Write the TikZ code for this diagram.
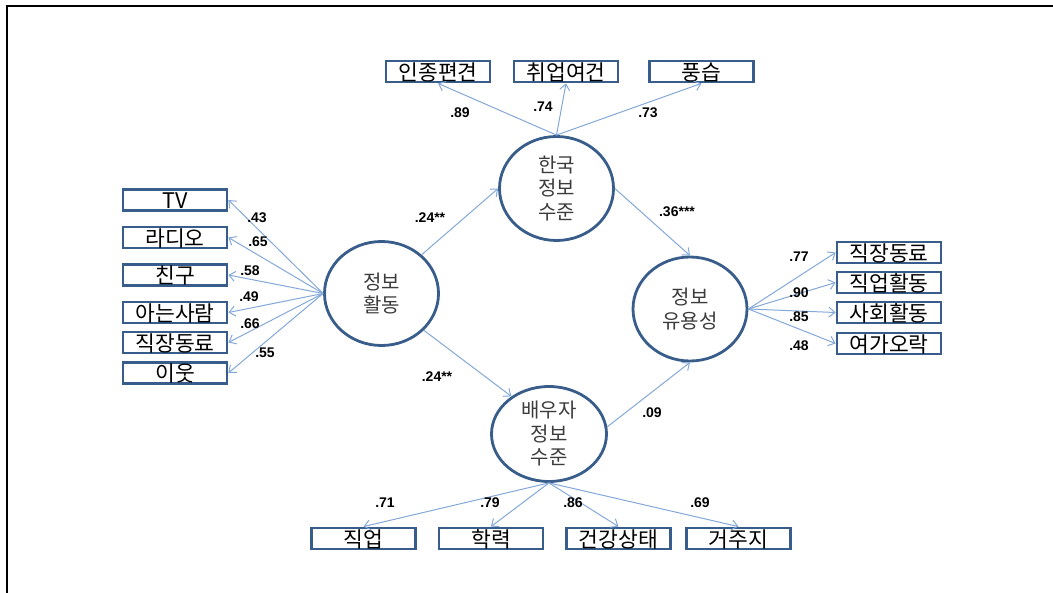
\documentclass[tikz,border=0pt]{standalone}
\usepackage{fontspec}
\newfontfamily\kr{Noto Sans CJK KR}
\newfontfamily\lab{Liberation Sans}
\usetikzlibrary{shapes.geometric,arrows.meta}
\definecolor{boxblue}{RGB}{56,93,138}
\definecolor{arrowblue}{RGB}{132,168,216}
\definecolor{circtext}{RGB}{60,60,60}
\begin{document}
\begin{tikzpicture}[x=1pt,y=-1pt,
  obs/.style={draw=boxblue, line width=2.8pt, fill=white, minimum width=104pt,
    minimum height=21pt, inner sep=0pt, text height=18pt, text depth=0pt,
    font=\kr\fontsize{21.5}{21.5}\selectfont},
  latent/.style={ellipse, draw=boxblue, line width=2.8pt, fill=white,
    minimum width=114pt, minimum height=104pt, inner sep=0pt, align=center,
    text=circtext, font=\kr\fontsize{20}{23.5}\selectfont},
  arr/.style={draw=arrowblue, line width=1pt,
    -{Straight Barb[length=6pt,width=10pt]}},
  coef/.style={inner sep=0pt, font=\lab\bfseries\fontsize{14}{14}\selectfont}]
\useasboundingbox (0,0) rectangle (1053,593);
% frame
\draw[line width=2pt] (6.5,593) -- (6.5,6.5) -- (1053,6.5);

% latent variables
\node[latent] (hk) at (556.5,188.5) {한국\\정보\\수준};
\node[latent] (act) at (381.5,293.5) {정보\\활동};
\node[latent] (use) at (690,309) {정보\\유용성};
\node[latent, minimum width=115pt, minimum height=95pt] (sp) at (549,434) {배우자\\정보\\수준};

% indicators of 한국 정보 수준
\node[obs] (t1) at (438,71.5) {인종편견};
\node[obs] (t2) at (566,71.5) {취업여건};
\node[obs] (t3) at (701.5,71.5) {풍습};

% indicators of 정보 활동
\node[obs] (l1) at (175,200) {TV};
\node[obs] (l2) at (175,237.5) {라디오};
\node[obs] (l3) at (175,275) {친구};
\node[obs] (l4) at (175,312.5) {아는사람};
\node[obs] (l5) at (175,342.5) {직장동료};
\node[obs] (l6) at (175,373) {이웃};

% indicators of 정보 유용성
\node[obs] (r1) at (889,252.5) {직장동료};
\node[obs] (r2) at (889,282.5) {직업활동};
\node[obs] (r3) at (889,312.5) {사회활동};
\node[obs] (r4) at (889,343.5) {여가오락};

% indicators of 배우자 정보 수준
\node[obs] (b1) at (363.5,538.5) {직업};
\node[obs] (b2) at (491,538.5) {학력};
\node[obs] (b3) at (618.5,538.5) {건강상태};
\node[obs] (b4) at (738.5,538.5) {거주지};

% measurement paths
\foreach \t in {t1,t2,t3} \draw[arr] (hk.north) -- (\t.south);
\foreach \l in {l1,l2,l3,l4,l5,l6} \draw[arr] (act.west) -- (\l.east);
\foreach \r in {r1,r2,r3,r4} \draw[arr] (use.east) -- (\r.west);
\foreach \b in {b1,b2,b3,b4} \draw[arr] (sp.south) -- (\b.north);

% structural paths
\draw[arr] (act.44) -- (hk.west);
\draw[arr] (hk.east) -- (use.north);
\draw[arr] (act.-41) -- (sp.135);
\draw[arr] (sp.7) -- (use.south);

% coefficients
\node[coef] (c1) at (460,113) {.89};
\node[coef] (c2) at (543,107) {.74};
\node[coef] (c3) at (648,113) {.73};
\node[coef] (c4) at (430,218) {.24**};
\node[coef] (c5) at (677,212) {.36***};
\node[coef] (c6) at (257,218) {.43};
\node[coef] (c7) at (258,242) {.65};
\node[coef] (c8) at (250,271) {.58};
\node[coef] (c9) at (249,297) {.49};
\node[coef] (c10) at (250,324) {.66};
\node[coef] (c11) at (265,353) {.55};
\node[coef] (c12) at (437,377) {.24**};
\node[coef] (c13) at (652,413) {.09};
\node[coef] (c14) at (385,503) {.71};
\node[coef] (c15) at (490,503) {.79};
\node[coef] (c16) at (573,503) {.86};
\node[coef] (c17) at (700,503) {.69};
\node[coef] (c18) at (799,257) {.77};
\node[coef] (c19) at (799,293) {.90};
\node[coef] (c20) at (799,317) {.85};
\node[coef] (c21) at (799,346) {.48};
\end{tikzpicture}
\end{document}
